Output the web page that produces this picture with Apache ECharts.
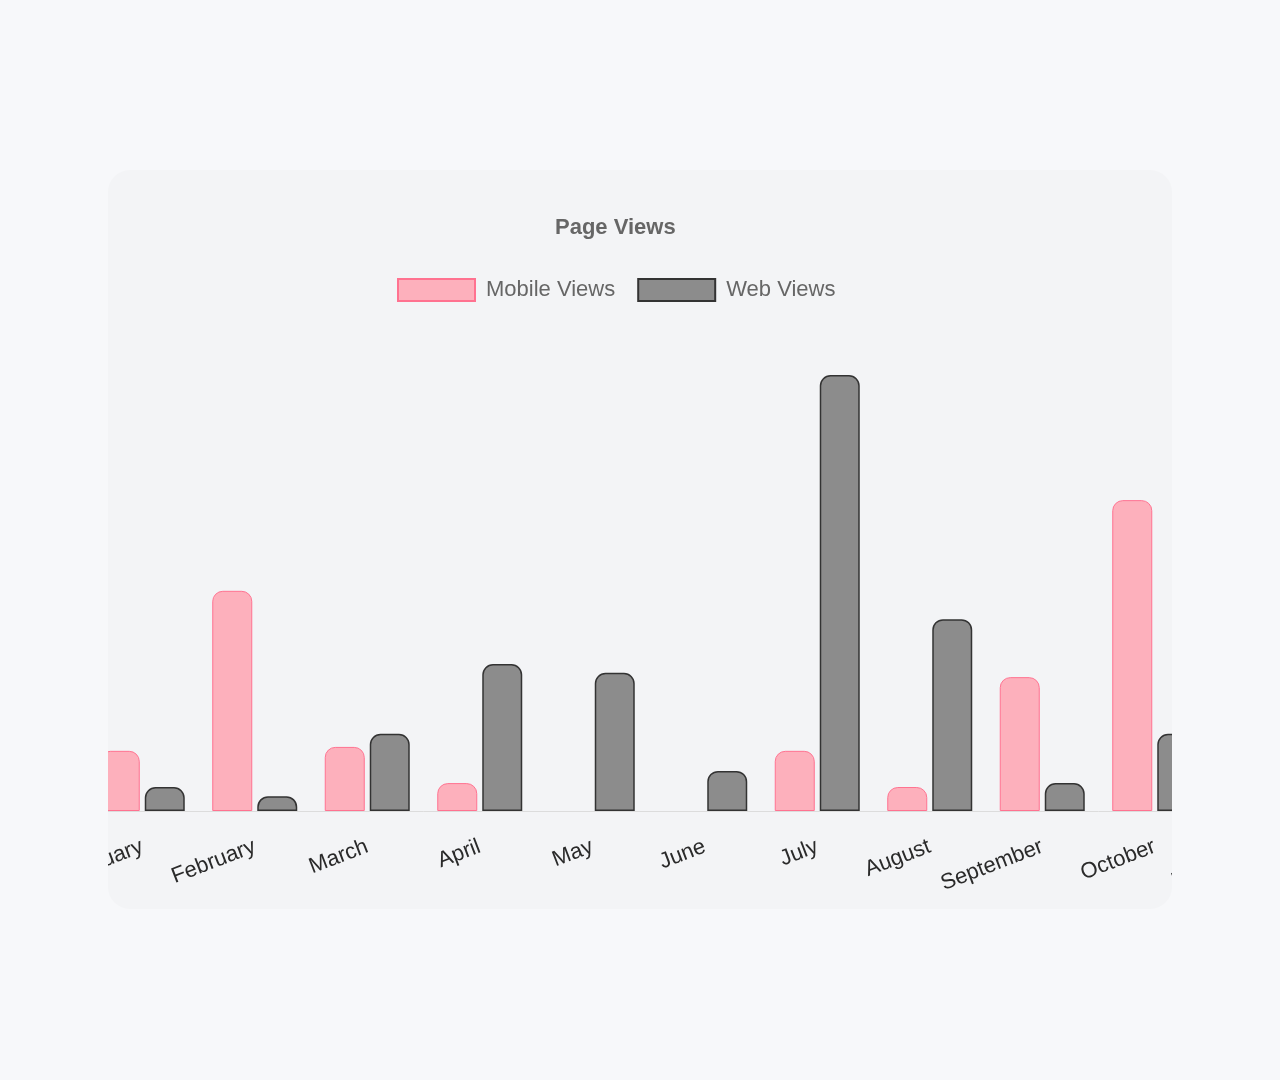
<!DOCTYPE html>
<html>
<head>
<meta charset="utf-8">
<script src="https://cdn.jsdelivr.net/npm/echarts@6/dist/echarts.min.js"></script>
<style>
  html, body { margin: 0; padding: 0; background: #f7f8fa; }
  #card {
    position: absolute; left: 108px; top: 170px; width: 1064px; height: 739px;
    background: #f3f4f6; border-radius: 22px; overflow: hidden;
  }
  #chart { position: absolute; left: -108px; top: -170px; width: 1500px; height: 1080px; }
</style>
</head>
<body>
<div id="card"><div id="chart"></div></div>
<script>
var months = ['January', 'February', 'March', 'April', 'May', 'June',
              'July', 'August', 'September', 'October', 'November', 'December'];
var mobileViews = [13.8, 50.5, 14.7, 6.4, 0, 0, 13.8, 5.5, 30.7, 71.3, 22, 40];
var webViews = [5.5, 3.4, 17.7, 33.7, 31.7, 9.2, 100, 44, 6.4, 17.7, 35, 12];

// empty bars get no outline, like the original
function barData(values) {
    return values.map(function (v) {
        return v === 0 ? { value: v, itemStyle: { borderWidth: 0 } } : v;
    });
}

var option = {
    animation: false,
    title: {
        text: 'Page Views',
        left: 550,
        top: 212,
        textStyle: {
            fontFamily: 'Liberation Sans, Arial, sans-serif',
            fontSize: 22,
            fontWeight: 'bold',
            color: '#666'
        }
    },
    legend: {
        left: 392,
        top: 273,
        itemWidth: 77,
        itemHeight: 22,
        itemGap: 22,
        icon: 'rect',
        textStyle: {
            fontFamily: 'Liberation Sans, Arial, sans-serif',
            fontSize: 22,
            color: '#666',
            padding: [0, 0, 0, 6]
        },
        data: ['Mobile Views', 'Web Views']
    },
    grid: {
        left: 86,
        top: 375,
        width: 1350,
        height: 436
    },
    xAxis: {
        type: 'category',
        data: months,
        axisLine: { lineStyle: { color: '#dcdcdc', width: 1 } },
        axisTick: { show: false },
        axisLabel: {
            rotate: 21,
            margin: 35,
            interval: 0,
            fontFamily: 'Liberation Sans, Arial, sans-serif',
            fontSize: 22,
            color: '#2a2a2a'
        }
    },
    yAxis: {
        type: 'value',
        min: 0,
        max: 100,
        show: false,
        splitLine: { show: false }
    },
    series: [
        {
            name: 'Mobile Views',
            type: 'bar',
            data: barData(mobileViews),
            barWidth: 40,
            barGap: '12.5%',
            itemStyle: {
                color: '#fdb0bc',
                borderColor: '#ff7290',
                borderWidth: 1,
                borderRadius: [10, 10, 0, 0]
            }
        },
        {
            name: 'Web Views',
            type: 'bar',
            data: barData(webViews),
            barWidth: 40,
            barGap: '12.5%',
            itemStyle: {
                color: '#8c8c8c',
                borderColor: '#333',
                borderWidth: 1.5,
                borderRadius: [10, 10, 0, 0]
            }
        }
    ]
};

var myChart = echarts.init(document.getElementById('chart'));
myChart.setOption(option);
</script>
</body>
</html>
